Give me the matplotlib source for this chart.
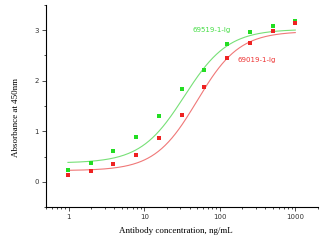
import numpy as np
import matplotlib
matplotlib.use("Agg")
import matplotlib.pyplot as plt
from matplotlib.ticker import LogLocator, MultipleLocator, FixedLocator

# concentracion (diluciones seriadas 1:2 desde 1000 ng/mL)
conc = [0.977, 1.953, 3.906, 7.8125, 15.625, 31.25, 62.5, 125, 250, 500, 1000]

# absorbancias medidas
abs_69519 = [0.24, 0.38, 0.61, 0.88, 1.30, 1.83, 2.22, 2.72, 2.97, 3.08, 3.18]
abs_69019 = [0.14, 0.21, 0.36, 0.53, 0.86, 1.33, 1.87, 2.46, 2.74, 2.99, 3.14]

# parametros del ajuste 4PL (abajo, arriba, EC50, pendiente)
fit_69519 = [0.37, 3.02, 34.0, 1.5]
fit_69019 = [0.22, 2.98, 50.0, 1.55]

labels = ["69519-1-Ig", "69019-1-Ig"]


def logistic4(x, bottom, top, ec50, hill):
    return bottom + (top - bottom) / (1 + (ec50 / x) ** hill)


fig = plt.figure(figsize=(3.24, 2.41), dpi=100)
ax = fig.add_axes([46 / 324, 34 / 241, 272 / 324, 202 / 241])

xs = np.logspace(np.log10(conc[0]), np.log10(conc[-1]), 200)
ax.plot(xs, logistic4(xs, *fit_69519), color="#77e077", lw=0.8)
ax.plot(xs, logistic4(xs, *fit_69019), color="#f07878", lw=0.8)
ax.scatter(conc, abs_69519, color="#22dd22", marker="s", s=6, lw=0, zorder=3)
ax.scatter(conc, abs_69019, color="#ee2222", marker="s", s=6, lw=0, zorder=3)

ax.text(44, 3.0, labels[0], color="#44dd44", fontsize=5, va="center", ha="left")
ax.text(170, 2.42, labels[1], color="#ee3333", fontsize=5, va="center", ha="left")

ax.set_xscale("log")
ax.set_xlim(0.5, 2000)
ax.set_ylim(-0.5, 3.5)
ax.xaxis.set_major_locator(FixedLocator([1, 10, 100, 1000]))
ax.set_xticklabels(["1", "10", "100", "1000"])
ax.xaxis.set_minor_locator(LogLocator(base=10, subs=np.arange(2, 10)))
ax.xaxis.set_minor_formatter(plt.NullFormatter())
ax.yaxis.set_major_locator(FixedLocator([0, 1, 2, 3]))
ax.yaxis.set_minor_locator(MultipleLocator(0.5))

for s in ["top", "right"]:
    ax.spines[s].set_visible(False)
for s in ["left", "bottom"]:
    ax.spines[s].set_linewidth(0.8)
ax.tick_params(which="major", length=3, width=0.6, labelsize=5, pad=2, colors="#333333")
ax.tick_params(which="minor", length=1.5, width=0.5)

ax.set_xlabel("Antibody concentration, ng/mL", fontsize=6.5, family="Liberation Serif")
ax.set_ylabel("Absorbance at 450nm", fontsize=6.5, family="Liberation Serif")
ax.xaxis.set_label_coords(0.476, -0.10)
ax.yaxis.set_label_coords(-0.096, 0.445)

fig.savefig("out.png", dpi=100)
